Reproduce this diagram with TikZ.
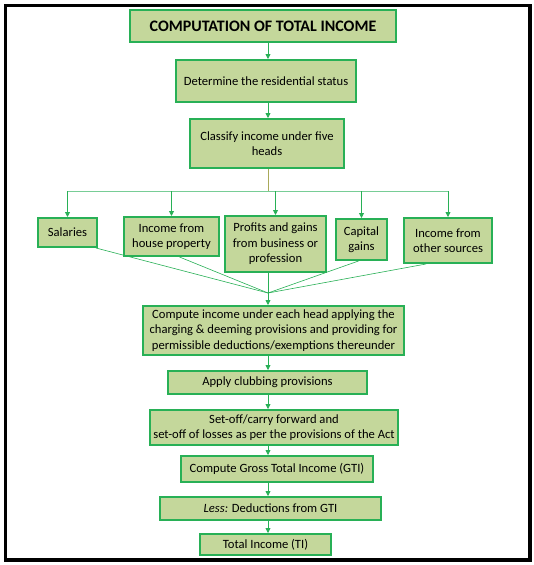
\documentclass[tikz,border=0pt]{standalone}
\usepackage{fontspec}
\setmainfont{Carlito}
\usetikzlibrary{arrows.meta}
\definecolor{boxfill}{RGB}{196,215,155}
\definecolor{boxline}{RGB}{40,176,86}
\definecolor{barline}{RGB}{120,205,150}
\definecolor{stemline}{RGB}{170,170,90}
\tikzset{
	stepbox/.style = {
		shape=rectangle,
		draw=boxline,
		line width=2pt,
		fill=boxfill,
		align=center,
		inner sep=0pt,
		font=\fontsize{12.6}{15.5}\selectfont
	},
	flow/.style = {
		draw=boxline,
		line width=0.8pt,
		-{Triangle[length=5pt,width=5pt]}
	},
	feed/.style = {
		draw=boxline,
		line width=0.6pt
	}
}

\begin{document}
\begin{tikzpicture}[x=1pt,y=-1pt]
		\useasboundingbox (0,0) rectangle (534,565);
		\fill[white] (0,0) rectangle (534,565);
		\draw[line width=3.5pt] (5.5,5.5) rectangle (530,560);
		% main column
		\node[stepbox, minimum width=266, minimum height=32,
			font=\fontsize{16}{18}\selectfont\bfseries] (title) at (263,26)
			{COMPUTATION OF TOTAL INCOME};
		\node[stepbox, minimum width=180, minimum height=42] (status) at (266,81)
			{Determine the residential status};
		\node[stepbox, minimum width=154, minimum height=49] (classify) at (267,143.5)
			{Classify income under five\\ heads};
		% the five heads
		\node[stepbox, minimum width=59, minimum height=29] (sal) at (67.5,232.5)
			{Salaries};
		\node[stepbox, minimum width=95, minimum height=39] (house) at (171.5,236.5)
			{Income from\\ house property};
		\node[stepbox, minimum width=101, minimum height=56] (profits) at (275.5,244)
			{Profits and gains\\ from business or\\ profession};
		\node[stepbox, minimum width=51, minimum height=41] (capital) at (361.5,239.5)
			{Capital\\ gains};
		\node[stepbox, minimum width=88, minimum height=45] (other) at (448,240.5)
			{Income from\\ other sources};
		% lower column
		\node[stepbox, minimum width=261, minimum height=49] (compute) at (273.5,330.5)
			{Compute income under each head applying the\\
			charging \& deeming provisions and providing for\\
			permissible deductions/exemptions thereunder};
		\node[stepbox, minimum width=199, minimum height=23] (club) at (267.5,382.5)
			{Apply clubbing provisions};
		\node[stepbox, minimum width=248, minimum height=35] (setoff) at (274,427.5)
			{Set-off/carry forward and\\
			set-off of losses as per the provisions of the Act};
		\node[stepbox, minimum width=192, minimum height=26] (gti) at (277,469)
			{Compute Gross Total Income (GTI)};
		\node[stepbox, minimum width=221, minimum height=23] (less) at (270.5,508.5)
			{\textit{Less:} Deductions from GTI};
		\node[stepbox, minimum width=131, minimum height=21] (ti) at (265.5,544.5)
			{Total Income (TI)};
		\coordinate (spine) at (268,0);
		\coordinate (bar) at (0,191);
		\coordinate (meet) at (268,293);
		% connectors
		\draw[flow] (title.south -| spine) -- (status.north -| spine);
		\draw[flow] (status.south -| spine) -- (classify.north -| spine);
		\draw[stemline, line width=0.6pt] (classify.south -| spine) -- (bar -| spine);
		\draw[barline, line width=0.8pt] (bar -| sal) -- (bar -| other);
		\foreach \head in {sal, house, profits, capital, other}
			\draw[flow] (bar -| \head) -- (\head.north);
		\draw[feed] ([xshift=-2pt]sal.south east) -- (meet);
		\draw[feed] ([xshift=8pt]house.south) -- (meet);
		\draw[feed] (profits.south -| spine) -- (meet);
		\draw[feed] ([xshift=-3pt]capital.south) -- (meet);
		\draw[feed] ([xshift=-22pt]other.south) -- (meet);
		\draw[flow] (meet) -- (compute.north -| spine);
		\draw[flow] (compute.south -| spine) -- (club.north -| spine);
		\draw[flow] (club.south -| spine) -- (setoff.north -| spine);
		\draw[flow] (setoff.south -| spine) -- (gti.north -| spine);
		\draw[flow] (gti.south -| spine) -- (less.north -| spine);
		\draw[flow] (less.south -| spine) -- (ti.north -| spine);
\end{tikzpicture}
\end{document}
